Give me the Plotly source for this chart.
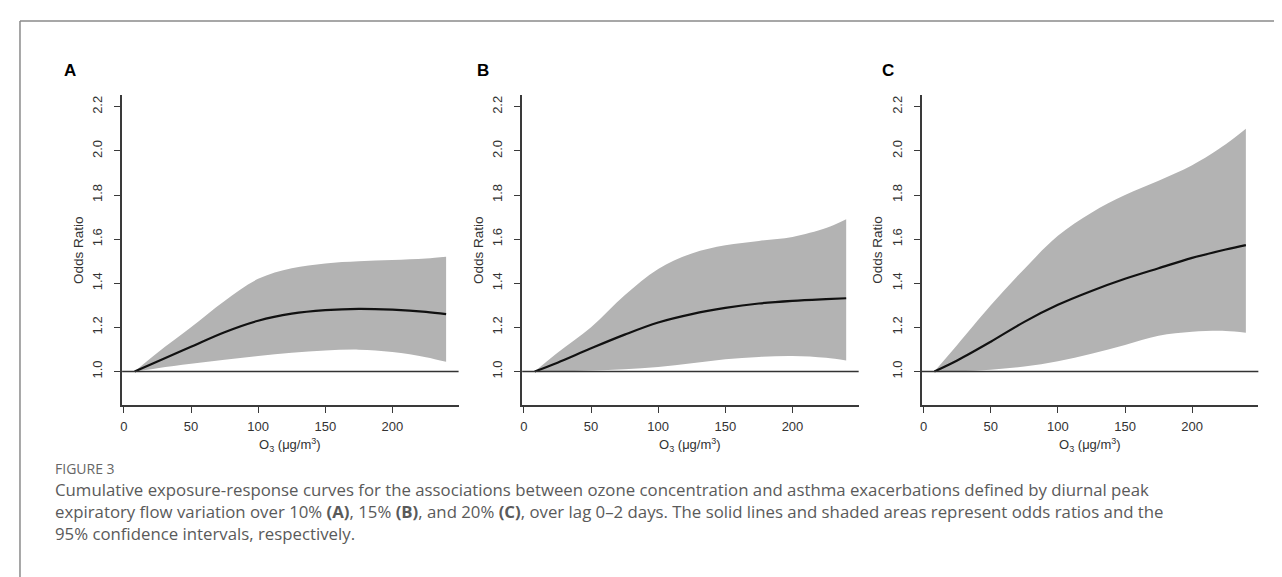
import plotly.graph_objects as go

# ---------------- data ----------------
o3 = [8, 25, 50, 75, 100, 125, 150, 175, 200, 225, 240]

or_a = [1.0, 1.045, 1.112, 1.178, 1.230, 1.262, 1.278, 1.284, 1.280, 1.270, 1.260]
lo_a = [1.0, 1.015, 1.035, 1.053, 1.070, 1.085, 1.095, 1.099, 1.088, 1.065, 1.044]
hi_a = [1.0, 1.085, 1.200, 1.320, 1.420, 1.468, 1.490, 1.500, 1.505, 1.512, 1.520]

or_b = [1.0, 1.040, 1.105, 1.167, 1.222, 1.260, 1.288, 1.308, 1.320, 1.328, 1.332]
lo_b = [1.0, 1.000, 1.004, 1.010, 1.020, 1.037, 1.055, 1.066, 1.070, 1.062, 1.050]
hi_b = [1.0, 1.085, 1.200, 1.345, 1.465, 1.535, 1.572, 1.592, 1.610, 1.650, 1.690]

or_c = [1.0, 1.050, 1.135, 1.225, 1.302, 1.365, 1.420, 1.468, 1.515, 1.553, 1.573]
lo_c = [1.0, 1.001, 1.008, 1.022, 1.046, 1.080, 1.120, 1.162, 1.180, 1.184, 1.176]
hi_c = [1.0, 1.120, 1.300, 1.465, 1.615, 1.720, 1.800, 1.865, 1.935, 2.030, 2.100]

panel_labels = ["A", "B", "C"]
x_ticks = [0, 50, 100, 150, 200]
y_ticks = [1.0, 1.2, 1.4, 1.6, 1.8, 2.0, 2.2]
y_tick_text = ["1.0", "1.2", "1.4", "1.6", "1.8", "2.0", "2.2"]
x_title = "O<sub>3</sub> (μg/m<sup>3</sup>)"
y_title = "Odds Ratio"
fig_label = "FIGURE 3"
caption_lines = [
    "Cumulative exposure-response curves for the associations between ozone concentration and asthma exacerbations defined by diurnal peak",
    "expiratory flow variation over 10% <b>(A)</b>, 15% <b>(B)</b>, and 20% <b>(C)</b>, over lag 0–2 days. The solid lines and shaded areas represent odds ratios and the",
    "95% confidence intervals, respectively.",
]

# ---------------- layout geometry ----------------
W, H = 1282, 577
x_range = [-1.3, 249.3]
y_range = [0.848, 2.252]
panel_left_px = [112.3, 513.0, 913.3]
panel_w_px = 337.0
plot_top_px, plot_bot_px = 87.3, 397.0
label_pos_px = [(60.5, 62.5), (474.0, 62.5), (879.0, 62.5)]

def px(x):
    return x / W

def py(y):
    return 1 - y / H

AX = "#3a3a3a"
TICKFONT = dict(family="Liberation Sans, Arial, sans-serif", size=13, color="#333333")

fig = go.Figure()
series = [(or_a, lo_a, hi_a), (or_b, lo_b, hi_b), (or_c, lo_c, hi_c)]

for i, (orv, lo, hi) in enumerate(series):
    sfx = "" if i == 0 else str(i + 1)
    xa, ya = "x" + sfx, "y" + sfx
    fig.add_trace(go.Scatter(x=o3, y=lo, xaxis=xa, yaxis=ya, mode="lines",
                             line=dict(width=0, shape="spline", color="#b3b3b3"),
                             showlegend=False, hoverinfo="skip"))
    fig.add_trace(go.Scatter(x=o3, y=hi, xaxis=xa, yaxis=ya, mode="lines",
                             line=dict(width=0, shape="spline", color="#b3b3b3"),
                             fill="tonexty", fillcolor="#b3b3b3",
                             showlegend=False, hoverinfo="skip"))
    fig.add_trace(go.Scatter(x=o3, y=orv, xaxis=xa, yaxis=ya, mode="lines",
                             line=dict(width=2.2, shape="spline", color="#111111"),
                             showlegend=False))

    left = panel_left_px[i]
    dom_x = [px(left), px(left + panel_w_px)]
    dom_y = [py(plot_bot_px), py(plot_top_px)]
    common = dict(showline=True, linecolor=AX, linewidth=1.5, ticks="outside",
                  ticklen=6, tickwidth=1.3, tickcolor=AX, tickfont=TICKFONT,
                  showgrid=False, zeroline=False, mirror=False, fixedrange=True)
    fig.update_layout(**{
        "xaxis" + sfx: dict(domain=dom_x, range=x_range, tickvals=x_ticks,
                            anchor=ya, ticklabelstandoff=3, **common),
        "yaxis" + sfx: dict(domain=dom_y, range=y_range, tickvals=y_ticks,
                            ticktext=y_tick_text, tickangle=-90, anchor=xa,
                            ticklabelstandoff=7, **common),
    })

    # reference line at OR = 1
    fig.add_shape(type="line", xref=xa + " domain", yref=ya, x0=0, x1=1, y0=1.0, y1=1.0,
                  line=dict(color="#333333", width=1.5), layer="above")

    # axis titles
    cx = left + panel_w_px / 2
    fig.add_annotation(xref="paper", yref="paper", x=px(cx), y=py(436.7),
                       text=x_title, showarrow=False, xanchor="center", yanchor="middle",
                       font=dict(family="Liberation Sans, Arial, sans-serif", size=13, color="#333333"))
    fig.add_annotation(xref="paper", yref="paper", x=px(left - 44.3),
                       y=py((plot_top_px + plot_bot_px) / 2),
                       text=y_title, showarrow=False, textangle=-90,
                       xanchor="center", yanchor="middle",
                       font=dict(family="Liberation Sans, Arial, sans-serif", size=13.5, color="#333333"))
    # panel letter
    lx, ly = label_pos_px[i]
    fig.add_annotation(xref="paper", yref="paper", x=px(lx), y=py(ly),
                       text="<b>" + panel_labels[i] + "</b>", showarrow=False,
                       xanchor="center", yanchor="middle",
                       font=dict(family="Liberation Sans, Arial, sans-serif", size=17, color="#000000"))

# frame (top and left border of the figure card)
fig.add_shape(type="line", xref="paper", yref="paper", x0=px(10), x1=1.0, y0=py(13), y1=py(13),
              line=dict(color="#8a8a8a", width=1.5))
fig.add_shape(type="line", xref="paper", yref="paper", x0=px(10), x1=px(10), y0=py(13), y1=0,
              line=dict(color="#8a8a8a", width=1.5))

# caption
fig.add_annotation(xref="paper", yref="paper", x=px(43), y=py(460), text=fig_label,
                   showarrow=False, xanchor="left", yanchor="middle",
                   font=dict(family="Open Sans, sans-serif", size=14, color="#666666"))
fig.add_annotation(xref="paper", yref="paper", x=px(43), y=py(503),
                   text="<br>".join(caption_lines), align="left",
                   showarrow=False, xanchor="left", yanchor="middle",
                   font=dict(family="Open Sans, sans-serif", size=16.8, color="#5a5a5a"))

fig.update_layout(width=W, height=H, margin=dict(l=0, r=0, t=0, b=0),
                  paper_bgcolor="white", plot_bgcolor="white", showlegend=False)

fig.write_html("out.html")
